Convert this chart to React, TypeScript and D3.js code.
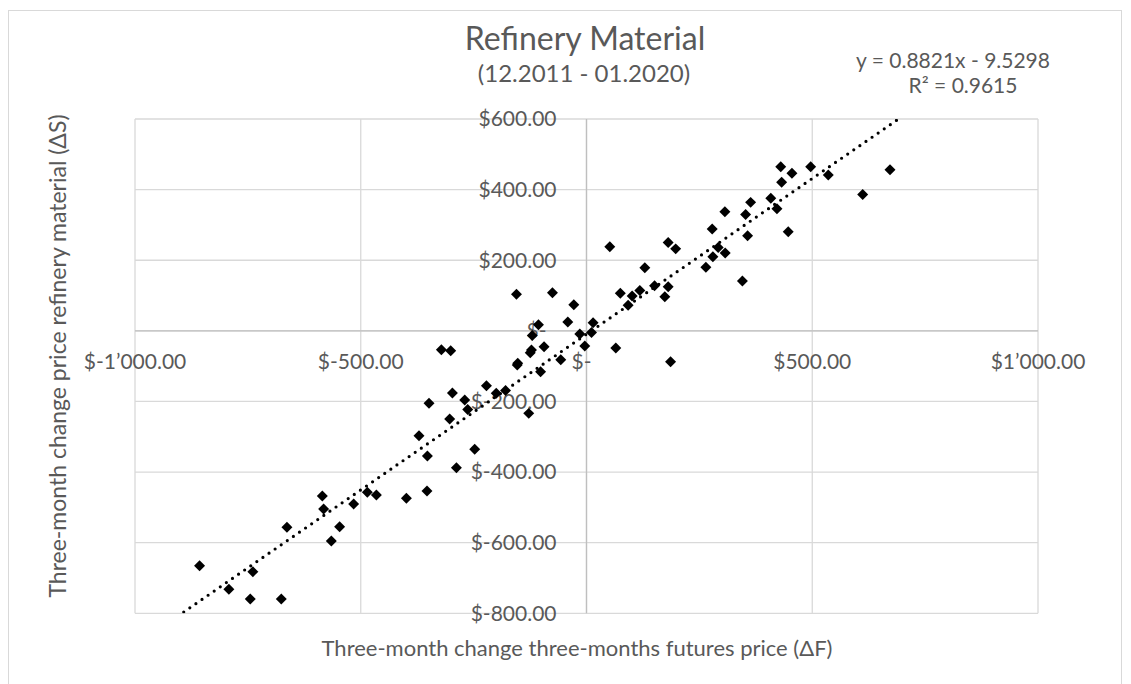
import React from "react";
import * as d3 from "d3";

// ΔF (three-month change of futures price)
const futuresChange = [
  51.6, 129.2, 74.9, 101.1, 118.1, 92.2, 150.7, 180.9, 173.5, 180.9,
  197.5, 264.4, 278.4, 279.9, 291.7, 307.2, 306.5, 345.3, 352.4, 356.8,
  363.5, 408.2, 421.8, 446.8, 430.2, 432.2, 455.0, 496.5, 535.5, 611.7,
  672.2, 14.6, 11.1, -3.8, 64.9, 186.2, -14.8, -28.1, -41.4, -75.4,
  -155.1, -106.4, -120.1, -94.0, -121.9, -152.3, -153.4, -101.7, -57.0, -127.9,
  -221.6, -199.9, -179.3, -321.4, -300.8, -348.8, -297.0, -269.7, -263.1, -303.0,
  -371.0, -352.4, -247.6, -288.1, -353.3, -398.9, -485.4, -465.4, -515.7, -585.1,
  -582.2, -546.8, -565.2, -663.5, -857.0, -738.9, -792.1, -744.7, -676.0, -124.6,
];
// ΔS (three-month change of refinery material price)
const spotChange = [
  238.2, 178.7, 106.2, 98.6, 114.1, 72.2, 127.5, 124.9, 96.6, 250.1,
  232.2, 179.9, 288.3, 209.9, 235.9, 220.4, 337.3, 141.0, 329.4, 269.3,
  363.9, 375.3, 345.8, 280.7, 464.8, 420.6, 446.1, 464.8, 441.3, 386.0,
  456.3, 22.9, -4.8, -43.0, -48.7, -87.5, -9.1, 73.9, 24.9, 107.9,
  103.4, 17.3, -13.3, -45.0, -54.4, -92.0, -96.9, -115.8, -81.9, -233.7,
  -155.5, -177.0, -169.1, -53.5, -56.6, -205.3, -176.2, -196.0, -222.9, -249.8,
  -297.4, -354.6, -335.3, -387.7, -453.7, -474.4, -457.4, -465.1, -490.5, -467.9,
  -504.7, -554.8, -595.3, -556.5, -665.3, -682.3, -732.1, -759.6, -759.6, -62.3,
];

const xTicks = [-1000, -500, 0, 500, 1000];
const yTicks = [-800, -600, -400, -200, 0, 200, 400, 600];

const trendSlope = 0.8821;
const trendIntercept = -9.5298;
const trendR2 = 0.9615;

const titleText = "Refinery Material";
const subtitleText = "(12.2011 - 01.2020)";
const xTitle = "Three-month change three-months futures price (ΔF)";
const yTitle = "Three-month change price refinery material (ΔS)";

const W = 1131;
const H = 684;
const plot = { left: 135, right: 1038, top: 119, bottom: 613.3 };
const FONT = "Lato, 'Open Sans', sans-serif";
const TEXT = "#595959";

const locale = d3.formatLocale({
  decimal: ".",
  thousands: "\u2019",
  grouping: [3],
  currency: ["$", ""],
  minus: "-",
});
const num = locale.format(",.2f");
const money = (v: number) => (v === 0 ? "$-" : "$" + num(v));

export default function App() {
  const x = d3.scaleLinear().domain([-1000, 1000]).range([plot.left, plot.right]);
  const y = d3.scaleLinear().domain([-800, 600]).range([plot.bottom, plot.top]);

  const x0 = x(0);
  const y0 = y(0);

  const trendPts: [number, number][] = [-1000, 1000].map((v) => [v, trendSlope * v + trendIntercept]);
  const line = d3
    .line<[number, number]>()
    .x((d) => x(d[0]))
    .y((d) => y(d[1]));

  const diamond = d3.symbol(d3.symbolSquare, 60)();
  const points = futuresChange.map((v, i) => [v, spotChange[i]] as [number, number]);

  const sign = trendIntercept < 0 ? "-" : "+";
  const eqText = `y = ${trendSlope.toFixed(4)}x ${sign} ${Math.abs(trendIntercept).toFixed(4)}`;

  return (
    <svg
      width={W}
      height={H}
      style={{ position: "absolute", left: 0, top: 0, display: "block", background: "#fff" }}
      fontFamily={FONT}
    >
      <rect x={8.5} y={10.5} width={1113} height={700} fill="#fff" stroke="#d9d9d9" strokeWidth={1} />
      <defs>
        <clipPath id="plotClip">
          <rect x={plot.left} y={plot.top} width={plot.right - plot.left} height={plot.bottom - plot.top} />
        </clipPath>
      </defs>

      {/* gridlines */}
      {xTicks.map((t) => (
        <line key={"gx" + t} x1={x(t)} x2={x(t)} y1={plot.top} y2={plot.bottom} stroke="#d9d9d9" strokeWidth={1.3} />
      ))}
      {yTicks.map((t) => (
        <line key={"gy" + t} x1={plot.left} x2={plot.right} y1={y(t)} y2={y(t)} stroke="#d9d9d9" strokeWidth={1.3} />
      ))}
      {/* axis lines */}
      <line x1={plot.left} x2={plot.right} y1={y0} y2={y0} stroke="#bfbfbf" strokeWidth={1.3} />
      <line x1={x0} x2={x0} y1={plot.top} y2={plot.bottom} stroke="#bfbfbf" strokeWidth={1.3} />

      {/* tick labels */}
      {yTicks.map((t) => (
        <text
          key={"ly" + t}
          x={t === 0 ? x0 - 40 : x0 - 30}
          y={y(t)}
          dy="0.35em"
          textAnchor="end"
          fontSize={21}
          fill={TEXT}
        >
          {money(t)}
        </text>
      ))}
      {xTicks.map((t) => (
        <text
          key={"lx" + t}
          x={t === 0 ? x(t) - 5 : x(t)}
          y={y0 + 31}
          dy="0.35em"
          textAnchor="middle"
          fontSize={21}
          fill={TEXT}
        >
          {money(t)}
        </text>
      ))}

      {/* trendline */}
      <path
        d={line(trendPts) || ""}
        clipPath="url(#plotClip)"
        fill="none"
        stroke="#000"
        strokeWidth={3.2}
        strokeLinecap="round"
        strokeDasharray="0 7.4"
      />

      {/* points */}
      {points.map((p, i) => (
        <path key={i} d={diamond || ""} transform={`translate(${x(p[0])},${y(p[1])}) rotate(45)`} fill="#000" />
      ))}

      {/* titles */}
      <text x={585} y={50} textAnchor="middle" fontSize={32} fill={TEXT}>
        {titleText}
      </text>
      <text x={584} y={81.5} textAnchor="middle" fontSize={24} fill={TEXT}>
        {subtitleText}
      </text>
      <text x={953} y={68} textAnchor="middle" fontSize={21} fill={TEXT}>
        {eqText}
      </text>
      <text x={963} y={93} textAnchor="middle" fontSize={21} fill={TEXT}>
        R² = {trendR2.toFixed(4)}
      </text>
      <text x={577} y={656} textAnchor="middle" fontSize={22} fill={TEXT}>
        {xTitle}
      </text>
      <text transform={`translate(66,356) rotate(-90)`} textAnchor="middle" fontSize={23} fill={TEXT}>
        {yTitle}
      </text>
    </svg>
  );
}
